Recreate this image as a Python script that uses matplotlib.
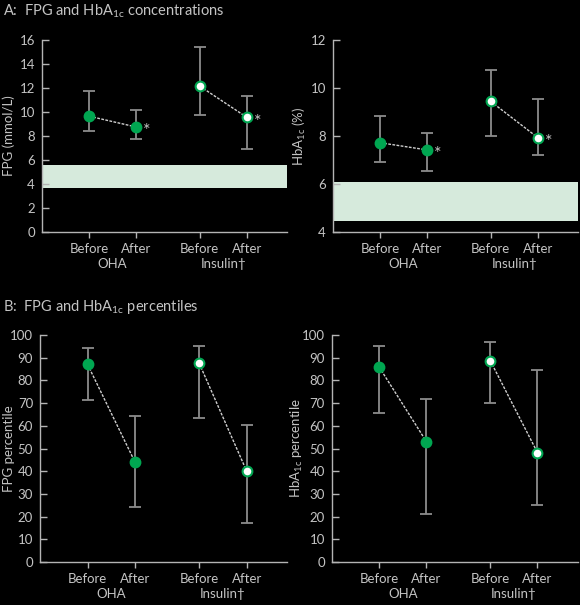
import matplotlib
matplotlib.use("Agg")
import matplotlib.pyplot as plt
import matplotlib.transforms as mtransforms

# ---- data ----
xlabels = ["Before", "After", "Before", "After"]
groups = ["OHA", "Insulin\u2020"]

fpg_mean = [9.65, 8.75, 12.15, 9.55]
fpg_low = [8.4, 7.75, 9.75, 6.9]
fpg_high = [11.75, 10.15, 15.4, 11.3]
fpg_band = [3.7, 5.6]

hba_mean = [7.72, 7.42, 9.44, 7.93]
hba_low = [6.92, 6.56, 8.0, 7.22]
hba_high = [8.83, 8.13, 10.75, 9.54]
hba_band = [4.44, 6.07]

fpgp_mean = [87.1, 44.0, 87.6, 40.0]
fpgp_low = [71.6, 24.1, 63.5, 17.2]
fpgp_high = [94.4, 64.3, 95.3, 60.3]

hbap_mean = [86.0, 53.1, 88.8, 48.2]
hbap_low = [65.6, 21.1, 70.2, 25.2]
hbap_high = [95.0, 72.0, 96.8, 84.8]

# ---- style ----
BG = "black"
TXT = "#c4c4c4"
AX = "#b4b4b4"
ERR = "#8c8c8c"
GREEN = "#00a651"
BAND = "#d6eadc"
LINE = "#cfcfcf"
xpos = [1, 2, 3.35, 4.35]
FS = 9.5

plt.rcParams["font.family"] = ["Lato", "DejaVu Sans"]
plt.rcParams["mathtext.fontset"] = "custom"
plt.rcParams["mathtext.rm"] = "Lato"
plt.rcParams["mathtext.it"] = "Lato"

fig = plt.figure(figsize=(5.8, 6.05), dpi=100, facecolor=BG)


def panel(rect, mean, low, high, ylim, yticks, ylabel, labx, band=None,
          stars=False):
    ax = fig.add_axes(rect, facecolor=BG)
    ax.set_xlim(0, 5.2)
    ax.set_ylim(*ylim)
    for s in ["top", "right"]:
        ax.spines[s].set_visible(False)
    for s in ["left", "bottom"]:
        ax.spines[s].set_color(AX)
        ax.spines[s].set_linewidth(1.0)
    if band is not None:
        ax.axhspan(band[0], band[1], color=BAND, zorder=1, lw=0)
    ax.set_yticks(yticks)
    ax.set_yticklabels([str(t) for t in yticks])
    ax.tick_params(axis="y", direction="in", length=5, width=1, colors=AX,
                   labelcolor=TXT, labelsize=FS, pad=5)
    ax.set_xticks(xpos)
    ax.set_xticklabels(xlabels)
    ax.tick_params(axis="x", direction="out", length=4, width=1, colors=AX,
                   labelcolor=TXT, labelsize=FS, pad=4)
    ax.set_ylabel(ylabel, color=TXT, fontsize=FS)
    ax.yaxis.set_label_coords(labx, 0.5)
    trans = mtransforms.blended_transform_factory(ax.transData, ax.transAxes)
    for gi, g in enumerate(groups):
        xc = (xpos[2 * gi] + xpos[2 * gi + 1]) / 2
        ax.annotate(g, (xc, 0), xycoords=trans, xytext=(0, -26),
                    textcoords="offset pixels", ha="center", va="top",
                    color=TXT, fontsize=FS)
    for gi in range(2):
        i0, i1 = 2 * gi, 2 * gi + 1
        ax.plot([xpos[i0], xpos[i1]], [mean[i0], mean[i1]], color=LINE,
                lw=1.0, dashes=(2, 1.0), zorder=3)
        for i in (i0, i1):
            ax.errorbar(xpos[i], mean[i],
                        yerr=[[mean[i] - low[i]], [high[i] - mean[i]]],
                        fmt="none", ecolor=ERR, elinewidth=1.3, capsize=4,
                        capthick=1.3, zorder=2)
            face = GREEN if gi == 0 else "white"
            ax.plot(xpos[i], mean[i], "o", ms=7, mfc=face, mec=GREEN,
                    mew=1.5, zorder=4)
        if stars:
            ax.annotate("*", (xpos[i1], mean[i1]), xytext=(5, -3),
                        textcoords="offset points", color=TXT, fontsize=13,
                        ha="left", va="center")
    return ax


panel([0.0724, 0.6165, 0.4224, 0.3174], fpg_mean, fpg_low, fpg_high,
      (0, 16), list(range(0, 17, 2)), "FPG (mmol/L)", -0.112,
      band=fpg_band, stars=True)
panel([0.574, 0.6165, 0.4224, 0.3174], hba_mean, hba_low, hba_high,
      (4, 12), [4, 6, 8, 10, 12], "HbA$_{1c}$ (%)", -0.102,
      band=hba_band, stars=True)
panel([0.069, 0.0711, 0.426, 0.375], fpgp_mean, fpgp_low, fpgp_high,
      (0, 100), list(range(0, 101, 10)), "FPG percentile", -0.103)
panel([0.572, 0.0711, 0.424, 0.375], hbap_mean, hbap_low, hbap_high,
      (0, 100), list(range(0, 101, 10)), "HbA$_{1c}$ percentile", -0.108)

fig.text(0.005, 0.981, "A:  FPG and HbA$_{1c}$ concentrations", color=TXT,
         fontsize=10.5, ha="left", va="center")
fig.text(0.005, 0.492, "B:  FPG and HbA$_{1c}$ percentiles", color=TXT,
         fontsize=10.5, ha="left", va="center")

fig.savefig("out.png", dpi=100, facecolor=BG)
